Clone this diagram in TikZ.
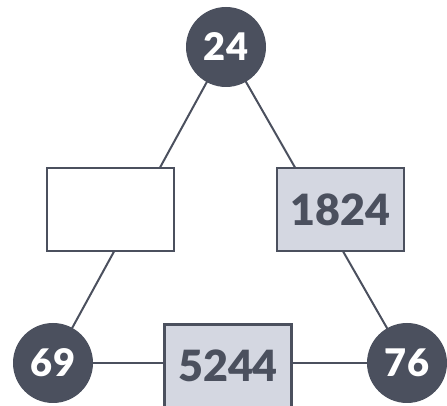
\documentclass[tikz,border=0pt]{standalone}
\usepackage{fontspec}
\setmainfont{Lato}[BoldFont={Lato Black}]
\usetikzlibrary{backgrounds}
\definecolor{slate}{HTML}{4B505E}
\definecolor{pale}{HTML}{D4D7E1}
\begin{document}
\begin{tikzpicture}[x=1pt,y=1pt,
  disc/.style={circle,fill=slate,minimum size=80pt,inner sep=0pt,text=white,font=\fontsize{38}{40}\selectfont\bfseries},
  valbox/.style={rectangle,draw=slate,line width=2.5pt,fill=pale,minimum width=127pt,minimum height=83pt,inner sep=0pt,text=slate,font=\fontsize{43}{45}\selectfont\bfseries},
  emptybox/.style={valbox,fill=white},
  link/.style={draw=slate,line width=2pt}]
\clip (0,0) rectangle (447,406);
\useasboundingbox (0,0) rectangle (447,406);
\node[disc] (t) at (226,359) {24};
\node[disc] (l) at (53,43) {69};
\node[disc] (r) at (407,43) {76};
\node[emptybox] (bl) at (110.5,196.5) {};
\node[valbox] (br) at (340.5,196.5) {1824};
\node[valbox] (bb) at (228,40) {5244};
\begin{pgfonlayer}{background}
\draw[link] (t.center) -- (l.center);
\draw[link] (t.center) -- (r.center);
\draw[link] (l.center) -- (r.center);
\end{pgfonlayer}
\end{tikzpicture}
\end{document}
